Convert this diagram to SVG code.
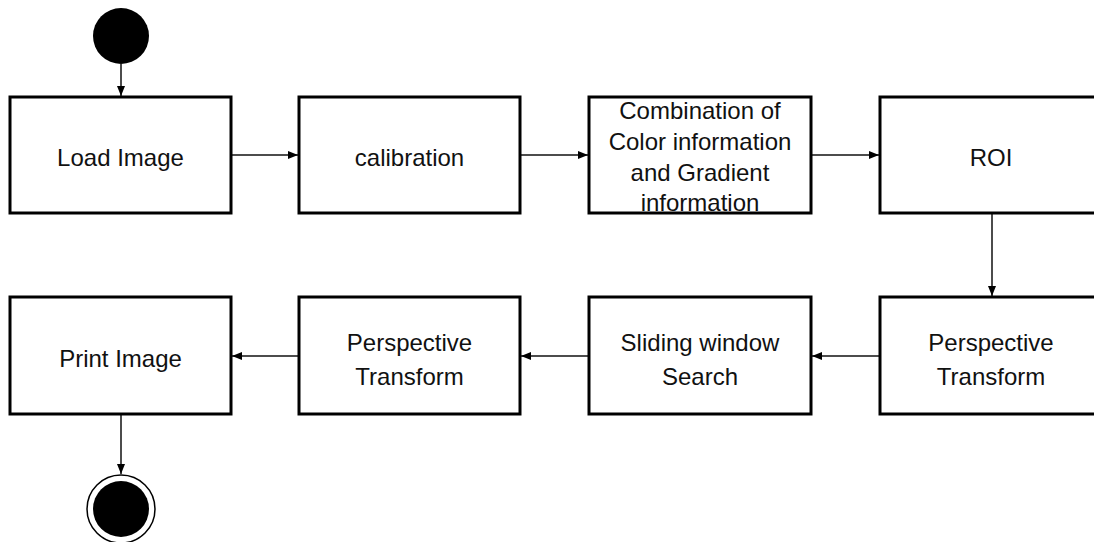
<svg xmlns="http://www.w3.org/2000/svg" width="1094" height="542" viewBox="0 0 1094 542">
<style>
.box{fill:#fff;stroke:#000;stroke-width:3}
.lbl{font-family:"Liberation Sans",Arial,sans-serif;font-size:24px;fill:#111;text-anchor:middle}
.edge{stroke:#111;stroke-width:1.5;fill:none;marker-end:url(#arr)}
</style>
<defs>
<marker id="arr" markerUnits="userSpaceOnUse" markerWidth="11" markerHeight="9" refX="10" refY="4" orient="auto">
<path d="M0,0 L10,4 L0,8 z" fill="#000"/>
</marker>
</defs>
<rect width="1094" height="542" fill="#fff"/>
<g id="connectors">
<line class="edge" x1="121" y1="64" x2="121" y2="96"/>
<line class="edge" x1="231" y1="155" x2="298" y2="155"/>
<line class="edge" x1="520" y1="155" x2="588" y2="155"/>
<line class="edge" x1="811" y1="155" x2="879" y2="155"/>
<line class="edge" x1="992" y1="213" x2="992" y2="296"/>
<line class="edge" x1="880" y1="356" x2="812" y2="356"/>
<line class="edge" x1="589" y1="356" x2="521" y2="356"/>
<line class="edge" x1="299" y1="356" x2="232" y2="356"/>
<line class="edge" x1="121" y1="415" x2="121" y2="474"/>
</g>
<g id="start"><circle cx="121" cy="36" r="28" fill="#000"/></g>
<g id="load"><rect class="box" x="10" y="97" width="221" height="116"/><text class="lbl" x="120.5" y="166">Load Image</text></g>
<g id="calibration"><rect class="box" x="299" y="97" width="221" height="116"/><text class="lbl" x="409.5" y="166">calibration</text></g>
<g id="combination"><rect class="box" x="589" y="97" width="222" height="116"/>
<text class="lbl" x="700" y="119">Combination of</text>
<text class="lbl" x="700" y="150">Color information</text>
<text class="lbl" x="700" y="181">and Gradient</text>
<text class="lbl" x="700" y="211">information</text></g>
<g id="roi"><rect class="box" x="880" y="97" width="222" height="116"/><text class="lbl" x="991" y="166">ROI</text></g>
<g id="persp1"><rect class="box" x="880" y="297" width="222" height="117"/><text class="lbl" x="991" y="351">Perspective</text><text class="lbl" x="991" y="385">Transform</text></g>
<g id="sliding"><rect class="box" x="589" y="297" width="222" height="117"/><text class="lbl" x="700" y="351">Sliding window</text><text class="lbl" x="700" y="385">Search</text></g>
<g id="persp2"><rect class="box" x="299" y="297" width="221" height="117"/><text class="lbl" x="409.5" y="351">Perspective</text><text class="lbl" x="409.5" y="385">Transform</text></g>
<g id="print"><rect class="box" x="10" y="297" width="221" height="117"/><text class="lbl" x="120.5" y="367">Print Image</text></g>
<g id="end"><circle cx="121" cy="509" r="34" fill="#fff" stroke="#000" stroke-width="1.5"/><circle cx="121" cy="509" r="28" fill="#000"/></g>
</svg>
